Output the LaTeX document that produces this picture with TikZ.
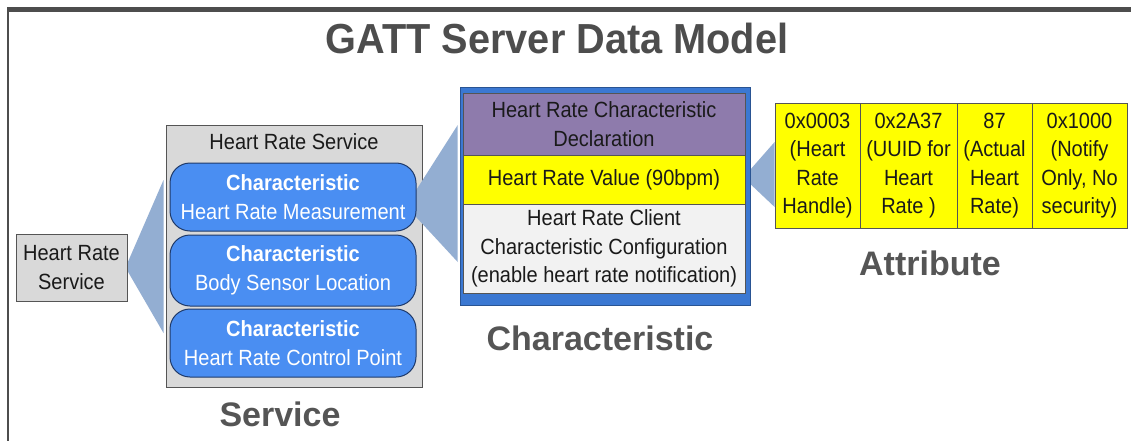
\documentclass[tikz,border=0pt]{standalone}
\usepackage{fontspec}
\setmainfont[FakeStretch=0.91]{Liberation Sans}
\newfontfamily\titlefont[FakeStretch=0.945]{Liberation Sans}
\newfontfamily\capfont{Liberation Sans}
\usetikzlibrary{calc}
\definecolor{frameGray}{HTML}{4D4D4D}
\definecolor{boxGray}{HTML}{D9D9D9}
\definecolor{edgeGray}{HTML}{555555}
\definecolor{charBlue}{HTML}{4A8EF2}
\definecolor{charEdge}{HTML}{1F3A6A}
\definecolor{fanBlue}{HTML}{93AED2}
\definecolor{declPurple}{HTML}{8E7BAC}
\definecolor{valYellow}{HTML}{FFFF00}
\definecolor{cfgGray}{HTML}{F2F2F2}
\definecolor{wrapBlue}{HTML}{3B78D2}
\definecolor{labelGray}{HTML}{555555}
\definecolor{inkBlack}{HTML}{1A1A1A}
\pgfdeclarelayer{back}
\pgfdeclarelayer{fans}
\pgfsetlayers{back,fans,main}
\tikzset{
  body/.style={font=\fontsize{22}{28.5}\selectfont, text=inkBlack, align=center, inner sep=0pt},
  graybox/.style={body, draw=edgeGray, fill=boxGray, line width=1pt},
  charbox/.style={body, text=white, draw=charEdge, fill=charBlue, line width=1pt,
    rounded corners=20pt, minimum width=246pt},
  section/.style={body, draw=edgeGray, line width=0.8pt, minimum width=282pt},
  cell/.style={body, draw=edgeGray, fill=valYellow, line width=0.8pt, minimum height=125pt},
  fan/.style={fill=fanBlue},
  caption/.style={font=\capfont\bfseries\fontsize{34}{34}\selectfont, text=labelGray, inner sep=0pt},
}
\begin{document}
\begin{tikzpicture}[x=1pt, y=-1pt]
\useasboundingbox (0,0) rectangle (1131,441);
\begin{pgfonlayer}{back}
\fill[white] (0,0) rectangle (1131,441);
\end{pgfonlayer}

% outer frame: heavy top rule and thin left rule
\fill[frameGray] (7,7) rectangle (1131,12);
\fill[frameGray] (7,7) rectangle (9,441);

\node[font=\titlefont\bfseries\fontsize{42}{42}\selectfont, text=frameGray, inner sep=0pt] (title) at (557,38) {GATT Server Data Model};

% service level
\node[graybox, minimum width=111pt, minimum height=67pt] (hrs) at (71.5,267.5) {Heart Rate\\Service};
\begin{pgfonlayer}{back}
\node[graybox, minimum width=256pt, minimum height=262pt] (svc) at (294,256) {};
\end{pgfonlayer}
\node[body] (svctitle) at (294,142) {Heart Rate Service};
\node[charbox, minimum height=68pt] (c1) at (293,197) {\textbf{Characteristic}\\Heart Rate Measurement};
\node[charbox, minimum height=71pt] (c2) at (293,270.5) {\textbf{Characteristic}\\Body Sensor Location};
\node[charbox, minimum height=68pt] (c3) at (293,343) {\textbf{Characteristic}\\Heart Rate Control Point};
\node[caption] (svccap) at (280,414) {Service};

% characteristic level
\node[fill=wrapBlue, draw=wrapBlue!70!black, line width=0.6pt, minimum width=290pt, minimum height=218pt, inner sep=0pt] (wrap) at (605,196) {};
\node[section, fill=declPurple, minimum height=62pt] (decl) at (604,124) {Heart Rate Characteristic\\Declaration};
\node[section, fill=valYellow, minimum height=49pt] (val) at (604,179.5) {Heart Rate Value (90bpm)};
\node[section, fill=cfgGray, minimum height=89pt] (cfg) at (604,248.5) {Heart Rate Client\\Characteristic Configuration\\(enable heart rate notification)};
\node[caption] (charcap) at (600,338) {Characteristic};

% attribute level
\node[cell, minimum width=85pt] (a1) at (817.5,165.5) {0x0003\\(Heart\\Rate\\Handle)};
\node[cell, minimum width=97pt] (a2) at (908.5,165.5) {0x2A37\\(UUID for\\Heart\\Rate )};
\node[cell, minimum width=75pt] (a3) at (994.5,165.5) {87\\(Actual\\Heart\\Rate)};
\node[cell, minimum width=95pt] (a4) at (1079.5,165.5) {0x1000\\(Notify\\Only, No\\security)};
\node[caption] (attcap) at (930,263) {Attribute};

% expansion fans between levels
\begin{pgfonlayer}{fans}
\fill[fan] ($(hrs.east)+(-2,0)$) -- ($(svc.west)+(-2,-76)$) -- ($(svc.west)+(-2,77)$) -- cycle;
\fill[fan] ($(c1.east)+(-6,2)$) -- ($(c1.east)+(-6,14)$) -- ($(wrap.west)+(-2,66)$) -- ($(wrap.west)+(-2,-71)$) -- cycle;
\fill[fan] ($(val.east)+(-2,-2)$) -- (a1.west |- 0,142) -- (a1.west |- 0,207) -- cycle;
\end{pgfonlayer}
\end{tikzpicture}
\end{document}
